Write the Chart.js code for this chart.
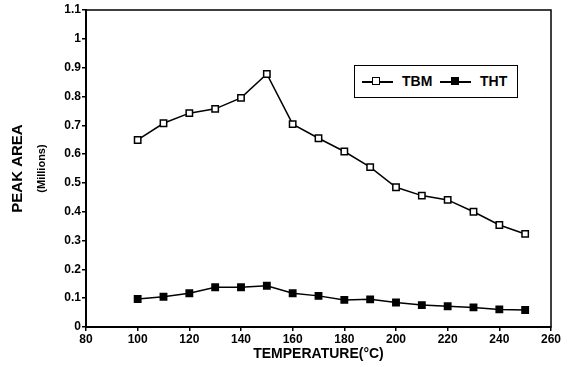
<!DOCTYPE html>
<html>
<head>
<meta charset="utf-8">
<script src="https://cdn.jsdelivr.net/npm/chart.js@4"></script>
<style>
    html, body { margin: 0; padding: 0; background: #fff; }
    .chart-container { position: relative; width: 571px; height: 367px; }
    .legend {
        position: absolute; left: 354px; top: 65px; width: 162px; height: 31px;
        border: 1.5px solid #000; background: #fff;
        font: bold 14px "Liberation Sans", Arial, sans-serif; color: #000;
    }
    .legend .item { position: absolute; top: 0; height: 31px; line-height: 31px; }
    .legend .line { position: absolute; top: 15px; width: 31px; height: 1.5px; background: #000; }
    .legend .mark { position: absolute; top: 11px; width: 6px; height: 6px; border: 1.5px solid #000; }
</style>
</head>
<body>
<div class="chart-container">
    <canvas id="peakChart" width="571" height="367"></canvas>
    <div class="legend">
        <div class="line" style="left:7px"></div>
        <div class="mark" style="left:17px;background:#fff"></div>
        <div class="item" style="left:47px">TBM</div>
        <div class="line" style="left:85px"></div>
        <div class="mark" style="left:96px;background:#000"></div>
        <div class="item" style="left:125px">THT</div>
    </div>
</div>
<script>
// Temperatures (°C)
const temps = [100, 110, 120, 130, 140, 150, 160, 170, 180, 190, 200, 210, 220, 230, 240, 250];

// Peak area (millions)
const tbm = [0.649, 0.707, 0.742, 0.757, 0.795, 0.878, 0.704, 0.655, 0.609, 0.555, 0.485, 0.456, 0.441, 0.400, 0.354, 0.323];
const tht = [0.097, 0.105, 0.117, 0.138, 0.138, 0.143, 0.117, 0.108, 0.094, 0.096, 0.085, 0.076, 0.072, 0.068, 0.061, 0.059];

const FONT = '"Liberation Sans", Arial, sans-serif';

// Frame round the plot + small "(Millions)" subtitle
const framePlugin = {
    id: 'frame',
    afterDraw(chart) {
        const { ctx, chartArea: a } = chart;
        ctx.save();
        ctx.strokeStyle = '#000';
        ctx.lineWidth = 1.5;
        ctx.strokeRect(a.left, a.top, a.right - a.left, a.bottom - a.top);
        ctx.translate(42, (a.top + a.bottom) / 2);
        ctx.rotate(-Math.PI / 2);
        ctx.font = 'bold 11px ' + FONT;
        ctx.fillStyle = '#000';
        ctx.textAlign = 'center';
        ctx.textBaseline = 'middle';
        ctx.fillText('(Millions)', 0, 0);
        ctx.restore();
    }
};

function renderChart() {
    const ctx = document.getElementById('peakChart').getContext('2d');
    new Chart(ctx, {
        type: 'line',
        data: {
            datasets: [{
                label: 'TBM',
                data: temps.map((t, i) => ({ x: t, y: tbm[i] })),
                borderColor: '#000',
                borderWidth: 1.5,
                pointStyle: 'rect',
                pointRadius: 4.5,
                pointBorderWidth: 1.5,
                pointBackgroundColor: '#fff',
                pointBorderColor: '#000',
                tension: 0
            }, {
                label: 'THT',
                data: temps.map((t, i) => ({ x: t, y: tht[i] })),
                borderColor: '#000',
                borderWidth: 1.5,
                pointStyle: 'rect',
                pointRadius: 4.5,
                pointBorderWidth: 1.5,
                pointBackgroundColor: '#000',
                pointBorderColor: '#000',
                tension: 0
            }]
        },
        options: {
            responsive: false,
            animation: false,
            layout: { padding: { top: 10, right: 20, bottom: 0, left: 0 } },
            plugins: {
                legend: { display: false },
                tooltip: { enabled: false }
            },
            scales: {
                x: {
                    type: 'linear',
                    min: 80,
                    max: 260,
                    border: { color: '#000', width: 2 },
                    grid: { drawOnChartArea: false, color: '#000', lineWidth: 1.5, tickLength: 4 },
                    ticks: {
                        stepSize: 20,
                        padding: 1,
                        color: '#000',
                        font: { family: FONT, size: 12, weight: 'bold' }
                    },
                    title: {
                        display: true,
                        text: 'TEMPERATURE(°C)',
                        color: '#000',
                        font: { family: FONT, size: 14, weight: 'bold' },
                        padding: { top: 0, bottom: 4 }
                    },
                    afterFit: (scale) => { scale.height = 40; }
                },
                y: {
                    min: 0,
                    max: 1.1,
                    border: { color: '#000', width: 2 },
                    grid: { drawOnChartArea: false, color: '#000', lineWidth: 1.5, tickLength: 4 },
                    ticks: {
                        stepSize: 0.1,
                        padding: 1,
                        color: '#000',
                        font: { family: FONT, size: 12, weight: 'bold' },
                        callback: (v) => String(Math.round(v * 10) / 10)
                    },
                    title: {
                        display: true,
                        text: 'PEAK AREA',
                        color: '#000',
                        font: { family: FONT, size: 15, weight: 'bold' },
                        padding: { top: 9, bottom: 0 }
                    },
                    afterFit: (scale) => { scale.width = 86; }
                }
            }
        },
        plugins: [framePlugin]
    });
}

document.addEventListener('DOMContentLoaded', renderChart);
</script>
</body>
</html>
